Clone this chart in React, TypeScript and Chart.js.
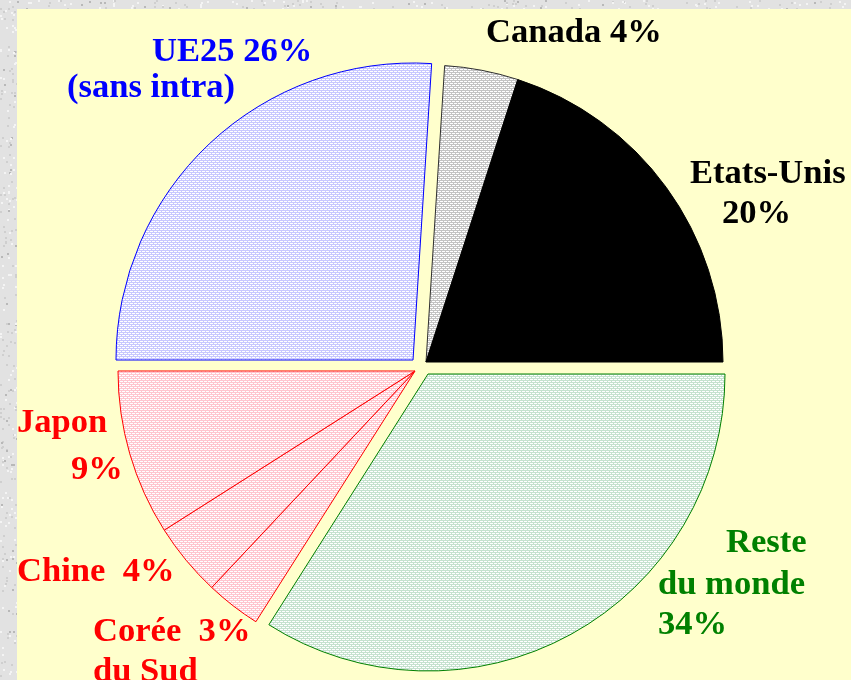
import React, { useEffect, useRef } from "react";
import { Chart, registerables } from "chart.js";

Chart.register(...registerables);

// ---- data ----
const categories = [
  "Canada",
  "Etats-Unis",
  "Reste du monde",
  "Corée du Sud",
  "Chine",
  "Japon",
  "UE25 (sans intra)",
];
const shares = [4, 20, 34, 3, 4, 9, 26];

const labelLines: string[][] = [
  [`Canada ${shares[0]}%`],
  ["Etats-Unis", `${shares[1]}%`],
  ["Reste", "du monde", `${shares[2]}%`],
  [`Corée  ${shares[3]}%`, "du Sud"],
  [`Chine  ${shares[4]}%`],
  ["Japon", `${shares[5]}%`],
  [`UE25 ${shares[6]}%`, "(sans intra)"],
];

// ---- styles / layout ----
const W = 851;
const H = 680;
const RADIUS = 297;
const START_ROTATION = 3.6;
const LABEL_FONT = "bold 34.6px 'Liberation Serif', 'Times New Roman', serif";

const textColors = ["#000000", "#000000", "#008000", "#ff0000", "#ff0000", "#ff0000", "#0000ff"];
const borderColors = ["#303030", "#000000", "#008000", "#ff0000", "#ff0000", "#ff0000", "#0000ff"];
// pattern base colours (null => solid)
const fillBases: (string | null)[] = ["#c4c4c4", null, "#c6e2cf", "#ffc6cf", "#ffc6cf", "#ffc6cf", "#c8c8ff"];
const solidFill = "#000000";

// group explosion shifts (px)
const sliceShift: [number, number][] = [
  [6, -4],
  [6, -4],
  [8, 8],
  [-5, 5],
  [-5, 5],
  [-5, 5],
  [-7, -6],
];

// label line positions: [left x, baseline y]
const labelPos: [number, number][][] = [
  [[486, 42]],
  [[690, 183], [722, 223]],
  [[726, 552], [658, 594], [658, 634]],
  [[93, 641], [93, 681]],
  [[17, 581]],
  [[17, 432], [71, 479]],
  [[152, 61], [67, 97]],
];

function makePattern(base: string): CanvasPattern | string {
  const c = document.createElement("canvas");
  c.width = 4;
  c.height = 4;
  const g = c.getContext("2d");
  if (!g) return base;
  g.fillStyle = base;
  g.fillRect(0, 0, 4, 4);
  g.fillStyle = "#ffffff";
  g.fillRect(0, 1, 3, 1);
  g.fillRect(2, 3, 2, 1);
  g.fillRect(0, 3, 1, 1);
  const p = g.createPattern(c, "repeat");
  return p || base;
}

const backgroundPlugin = {
  id: "bgTexture",
  beforeDraw(chart: any) {
    const ctx: CanvasRenderingContext2D = chart.ctx;
    ctx.save();
    ctx.fillStyle = "#e2e2e2";
    ctx.fillRect(0, 0, W, H);
    // deterministic speckle texture for the marble frame
    let s = 12345;
    const rnd = () => {
      s = (s * 1103515245 + 12345) & 0x7fffffff;
      return s / 0x7fffffff;
    };
    for (let i = 0; i < 14000; i++) {
      const x = rnd() * W;
      const y = rnd() * H;
      const v = rnd();
      ctx.fillStyle = v < 0.45 ? "#cfcfcf" : v < 0.85 ? "#f4f4f4" : "#b8b8b8";
      ctx.fillRect(Math.floor(x), Math.floor(y), 2, 2);
    }
    ctx.fillStyle = "#ffffcc";
    ctx.fillRect(17, 9, W - 17, H - 9);
    ctx.restore();
  },
};

const explodePlugin = {
  id: "groupExplode",
  afterDatasetsUpdate(chart: any) {
    const meta = chart.getDatasetMeta(0);
    meta.data.forEach((el: any, i: number) => {
      el.x += sliceShift[i][0];
      el.y += sliceShift[i][1];
    });
  },
};

const labelPlugin = {
  id: "sliceLabels",
  afterDraw(chart: any) {
    const ctx: CanvasRenderingContext2D = chart.ctx;
    ctx.save();
    ctx.font = LABEL_FONT;
    ctx.textAlign = "left";
    ctx.textBaseline = "alphabetic";
    labelLines.forEach((lines, i) => {
      ctx.fillStyle = textColors[i];
      lines.forEach((t, j) => {
        const [x, y] = labelPos[i][j];
        ctx.fillText(t, x, y);
      });
    });
    ctx.restore();
  },
};

export default function App() {
  const ref = useRef<HTMLCanvasElement | null>(null);

  useEffect(() => {
    if (!ref.current) return;
    const fills = fillBases.map((b) => (b ? makePattern(b) : solidFill));
    const chart = new Chart(ref.current, {
      type: "pie",
      data: {
        labels: categories,
        datasets: [
          {
            data: shares,
            backgroundColor: fills as any,
            borderColor: borderColors,
            borderWidth: 1,
          },
        ],
      },
      options: {
        responsive: false,
        animation: false,
        events: [],
        rotation: START_ROTATION,
        radius: RADIUS,
        layout: { padding: { left: 123, right: 134, top: 69, bottom: 17 } },
        plugins: {
          legend: { display: false },
          tooltip: { enabled: false },
          title: { display: false },
        },
      } as any,
      plugins: [backgroundPlugin, explodePlugin, labelPlugin],
    });
    return () => chart.destroy();
  }, []);

  return (
    <div style={{ position: "absolute", left: 0, top: 0, width: W, height: H }}>
      <canvas ref={ref} width={W} height={H} style={{ display: "block", width: W, height: H }} />
    </div>
  );
}
